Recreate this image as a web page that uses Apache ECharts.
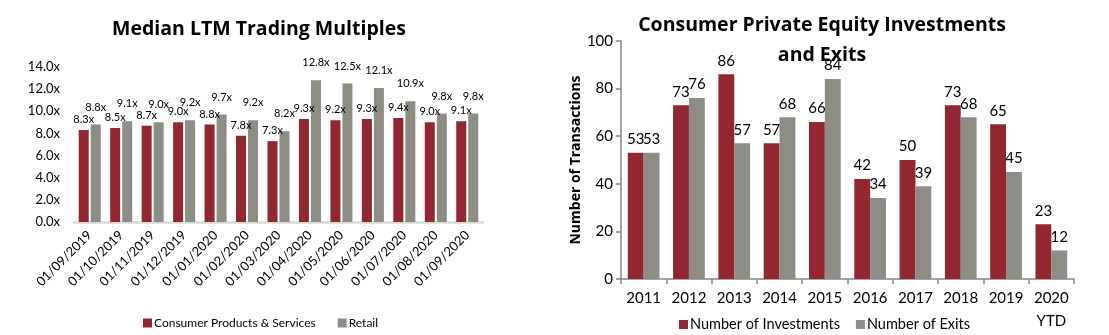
<!DOCTYPE html>
<html>
<head>
<meta charset="utf-8">
<script src="https://cdn.jsdelivr.net/npm/echarts@6/dist/echarts.min.js"></script>
<style>
  html, body { margin: 0; padding: 0; background: #fff; }
  #chart { width: 1109px; height: 335px; }
</style>
</head>
<body>
<div id="chart"></div>
<script>
// Left panel: median LTM trading multiples by month
const monthLabels = ['01/09/2019', '01/10/2019', '01/11/2019', '01/12/2019', '01/01/2020', '01/02/2020',
  '01/03/2020', '01/04/2020', '01/05/2020', '01/06/2020', '01/07/2020', '01/08/2020', '01/09/2020'];
const consumerProducts = [8.3, 8.5, 8.7, 9.0, 8.8, 7.8, 7.3, 9.3, 9.2, 9.3, 9.4, 9.0, 9.1];
const retail = [8.8, 9.1, 9.0, 9.2, 9.7, 9.2, 8.2, 12.8, 12.5, 12.1, 10.9, 9.8, 9.8];
const multipleTicks = [0, 2, 4, 6, 8, 10, 12, 14];

// Right panel: consumer private equity deal counts by year
const years = ['2011', '2012', '2013', '2014', '2015', '2016', '2017', '2018', '2019', '2020\nYTD'];
const investments = [53, 73, 86, 57, 66, 42, 50, 73, 65, 23];
const exits = [53, 76, 57, 68, 84, 34, 39, 68, 45, 12];
const countTicks = [0, 20, 40, 60, 80, 100];

const RED = '#93272f';
const GREY = '#8d8d86';
const FONT = 'Lato, "Liberation Sans", sans-serif';
const TITLE_FONT = '"Open Sans", Lato, sans-serif';

const chart = echarts.init(document.getElementById('chart'), null, { renderer: 'canvas' });

const multipleLabel = (distance) => ({
  show: true, position: 'top', distance, fontFamily: FONT, fontSize: 11, color: '#000',
  formatter: p => p.value.toFixed(1) + 'x'
});

chart.setOption({
  animation: false,
  textStyle: { fontFamily: FONT, color: '#000' },
  title: [
    {
      text: 'Median LTM Trading Multiples',
      left: 259, top: 19, textAlign: 'center', padding: 0,
      textStyle: { fontFamily: TITLE_FONT, fontSize: 19.5, fontWeight: 'bold', color: '#000' }
    },
    {
      text: 'Consumer Private Equity Investments\nand Exits',
      left: 822, top: 10, textAlign: 'center', padding: 0,
      textStyle: { fontFamily: TITLE_FONT, fontSize: 19.5, fontWeight: 'bold', color: '#000', lineHeight: 30 }
    }
  ],
  legend: [
    {
      data: ['Consumer Products & Services', 'Retail'],
      left: 143, top: 317, padding: 0,
      itemWidth: 9, itemHeight: 9, itemGap: 22,
      icon: 'rect',
      textStyle: { fontFamily: FONT, fontSize: 12, color: '#000', padding: [0, 0, 0, -3] }
    },
    {
      data: ['Number of Investments', 'Number of Exits'],
      left: 679, top: 317, padding: 0,
      itemWidth: 9, itemHeight: 9, itemGap: 16,
      icon: 'rect',
      textStyle: { fontFamily: FONT, fontSize: 14.5, color: '#000', padding: [0, 0, 0, -3] }
    }
  ],
  grid: [
    { left: 74, width: 409, top: 67, bottom: 113, containLabel: false },
    { left: 621, width: 453, top: 41, bottom: 56, containLabel: false }
  ],
  xAxis: [
    {
      type: 'category', gridIndex: 0, data: monthLabels,
      axisLine: { lineStyle: { color: '#d9d9d9', width: 2.5 } },
      axisTick: { show: false },
      axisLabel: { rotate: 45, margin: 11, fontFamily: FONT, fontSize: 13, color: '#000', interval: 0 }
    },
    {
      type: 'category', gridIndex: 1, data: years,
      axisLine: { lineStyle: { color: '#868686', width: 1.5 } },
      axisTick: { show: true, length: 5, lineStyle: { color: '#868686', width: 1.5 } },
      axisLabel: { margin: 8, fontFamily: FONT, fontSize: 15, color: '#000', lineHeight: 23, interval: 0 }
    }
  ],
  yAxis: [
    {
      type: 'value', gridIndex: 0,
      min: multipleTicks[0], max: multipleTicks[multipleTicks.length - 1], interval: 2,
      axisLine: { show: false }, axisTick: { show: false }, splitLine: { show: false },
      axisLabel: { margin: 14, fontFamily: FONT, fontSize: 13, color: '#000',
        formatter: v => v.toFixed(1) + 'x' }
    },
    {
      type: 'value', gridIndex: 1,
      min: countTicks[0], max: countTicks[countTicks.length - 1], interval: 20,
      name: 'Number of Transactions', nameLocation: 'middle', nameGap: 38,
      nameTextStyle: { fontFamily: TITLE_FONT, fontSize: 14, fontWeight: 'bold', color: '#000' },
      axisLine: { show: true, lineStyle: { color: '#868686', width: 1.5 } },
      axisTick: { show: true, length: 5, lineStyle: { color: '#868686', width: 1.5 } },
      splitLine: { show: false },
      axisLabel: { margin: 8, fontFamily: FONT, fontSize: 15, color: '#000' }
    }
  ],
  series: [
    {
      name: 'Consumer Products & Services', type: 'bar', xAxisIndex: 0, yAxisIndex: 0,
      data: consumerProducts, itemStyle: { color: RED },
      barGap: '20%', barCategoryGap: '30%',
      label: multipleLabel(5),
      labelLayout: { moveOverlap: 'shiftY' }
    },
    {
      name: 'Retail', type: 'bar', xAxisIndex: 0, yAxisIndex: 0,
      data: retail, itemStyle: { color: GREY },
      barGap: '20%', barCategoryGap: '30%',
      label: multipleLabel(12),
      labelLayout: { moveOverlap: 'shiftY' }
    },
    {
      name: 'Number of Investments', type: 'bar', xAxisIndex: 1, yAxisIndex: 1,
      data: investments, itemStyle: { color: RED },
      barGap: '0%', barCategoryGap: '30%',
      label: { show: true, position: 'top', distance: 6, fontFamily: FONT, fontSize: 15, color: '#000' }
    },
    {
      name: 'Number of Exits', type: 'bar', xAxisIndex: 1, yAxisIndex: 1,
      data: exits, itemStyle: { color: GREY },
      barGap: '0%', barCategoryGap: '30%',
      label: { show: true, position: 'top', distance: 6, fontFamily: FONT, fontSize: 15, color: '#000' }
    }
  ]
});
</script>
</body>
</html>
